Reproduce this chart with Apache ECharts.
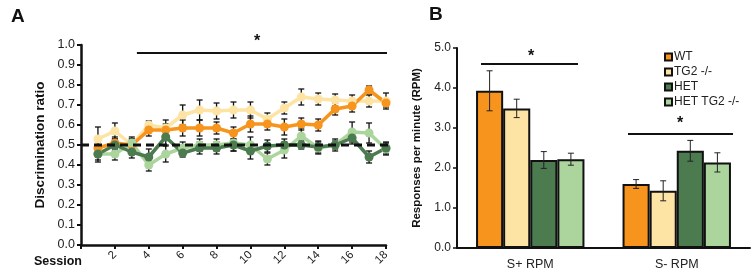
<!DOCTYPE html>
<html>
<head>
<meta charset="utf-8">
<script src="https://cdn.jsdelivr.net/npm/echarts@6/dist/echarts.min.js"></script>
<style>
  html, body { margin: 0; padding: 0; background: #fff; }
  #chart { width: 755px; height: 274px; }
</style>
</head>
<body>
<div id="chart"></div>
<script>
// panel A: discrimination ratio per session
const sessions = [1, 2, 3, 4, 5, 6, 7, 8, 9, 10, 11, 12, 13, 14, 15, 16, 17, 18]
const wtRatio = [0.485, 0.51, 0.50, 0.575, 0.575, 0.585, 0.585, 0.585, 0.56, 0.605, 0.605, 0.59, 0.605, 0.60, 0.68, 0.695, 0.775, 0.71]
const tg2Ratio = [0.53, 0.57, 0.50, 0.60, 0.585, 0.65, 0.675, 0.67, 0.675, 0.675, 0.63, 0.685, 0.74, 0.73, 0.725, 0.72, 0.72, 0.72]
const hetRatio = [0.455, 0.50, 0.465, 0.44, 0.54, 0.46, 0.485, 0.485, 0.50, 0.47, 0.495, 0.50, 0.50, 0.49, 0.50, 0.535, 0.44, 0.485]
const hetTg2Ratio = [0.455, 0.455, 0.51, 0.40, 0.455, 0.485, 0.50, 0.50, 0.51, 0.50, 0.43, 0.475, 0.545, 0.485, 0.50, 0.565, 0.56, 0.48]
const wtRatioErr = [0.03, 0.03, 0.03, 0.03, 0.03, 0.04, 0.04, 0.03, 0.03, 0.04, 0.03, 0.04, 0.03, 0.03, 0.03, 0.03, 0.02, 0.02]
const tg2RatioErr = [0.06, 0.04, 0.03, 0.02, 0.04, 0.05, 0.05, 0.04, 0.04, 0.04, 0.03, 0.03, 0.04, 0.03, 0.03, 0.03, 0.03, 0.04]
const hetRatioErr = [0.03, 0.03, 0.03, 0.04, 0.04, 0.02, 0.03, 0.03, 0.03, 0.04, 0.03, 0.03, 0.02, 0.03, 0.02, 0.03, 0.03, 0.03]
const hetTg2RatioErr = [0.04, 0.03, 0.03, 0.03, 0.04, 0.03, 0.03, 0.03, 0.04, 0.04, 0.03, 0.04, 0.04, 0.03, 0.03, 0.05, 0.05, 0.03]
const chanceLevel = 0.5

// panel B: responses per minute
const rpmCategories = ['S+ RPM', 'S- RPM']
const groups = ['WT', 'TG2 -/-', 'HET', 'HET TG2 -/-']
const wtRpm = [3.93, 1.60]
const tg2Rpm = [3.49, 1.43]
const hetRpm = [2.20, 2.43]
const hetTg2Rpm = [2.22, 2.14]
const wtRpmErr = [0.50, 0.11]
const tg2RpmErr = [0.23, 0.25]
const hetRpmErr = [0.21, 0.26]
const hetTg2RpmErr = [0.15, 0.24]

const colors = ['#F7941D', '#FDE3A4', '#4B7B4F', '#ABD59D']
const font = 'Liberation Sans, Arial, sans-serif'

const chartInstance = echarts.init(document.getElementById('chart'))

// error bar on the line panel (drawn behind the lines)
function lineErr(vals, errs) {
  return {
    type: 'custom',
    xAxisIndex: 0,
    yAxisIndex: 0,
    z: 2,
    silent: true,
    data: vals.map((v, i) => [sessions[i], v - errs[i], v + errs[i]]),
    renderItem(params, api) {
      const lo = api.coord([api.value(0), api.value(1)])
      const hi = api.coord([api.value(0), api.value(2)])
      const w = 3
      const style = { stroke: '#111', lineWidth: 1.3 }
      return {
        type: 'group',
        children: [
          { type: 'line', shape: { x1: lo[0], y1: lo[1], x2: hi[0], y2: hi[1] }, style },
          { type: 'line', shape: { x1: lo[0] - w, y1: lo[1], x2: lo[0] + w, y2: lo[1] }, style },
          { type: 'line', shape: { x1: hi[0] - w, y1: hi[1], x2: hi[0] + w, y2: hi[1] }, style },
        ],
      }
    },
  }
}

const gapRatio = 0.26
// error bar on the bar panel, shifted to the bar's slot
function barErr(vals, errs, slot) {
  return {
    type: 'custom',
    xAxisIndex: 1,
    yAxisIndex: 1,
    z: 4,
    silent: true,
    data: vals.map((v, i) => [i, v - errs[i], v + errs[i]]),
    renderItem(params, api) {
      const band = api.size([1, 0])[0]
      const bw = band * (1 - gapRatio) / 4
      const dx = (slot - 1.5) * bw
      const lo = api.coord([api.value(0), api.value(1)])
      const hi = api.coord([api.value(0), api.value(2)])
      const x = lo[0] + dx
      const w = 3
      const style = { stroke: '#222', lineWidth: 1 }
      return {
        type: 'group',
        children: [
          { type: 'line', shape: { x1: x, y1: lo[1], x2: x, y2: hi[1] }, style },
          { type: 'line', shape: { x1: x - w, y1: lo[1], x2: x + w, y2: lo[1] }, style },
          { type: 'line', shape: { x1: x - w, y1: hi[1], x2: x + w, y2: hi[1] }, style },
        ],
      }
    },
  }
}

function ratioLine(name, vals, color) {
  return {
    name: 'A ' + name,
    type: 'line',
    xAxisIndex: 0,
    yAxisIndex: 0,
    data: vals.map((v, i) => [sessions[i], v]),
    symbol: 'circle',
    symbolSize: 9,
    lineStyle: { color, width: 3.5 },
    itemStyle: { color },
    z: 3,
  }
}

function rpmBar(name, vals, color) {
  return {
    name,
    type: 'bar',
    xAxisIndex: 1,
    yAxisIndex: 1,
    data: vals,
    barGap: '0%',
    barCategoryGap: gapRatio * 100 + '%',
    itemStyle: { color, borderColor: '#111', borderWidth: 2 },
  }
}

const option = {
  animation: false,
  textStyle: { fontFamily: font },
  title: [
    { text: 'A', left: 6, top: 2, textStyle: { fontSize: 19, fontWeight: 'bold', color: '#111' } },
    { text: 'B', left: 424, top: 0, textStyle: { fontSize: 19, fontWeight: 'bold', color: '#111' } },
  ],
  legend: {
    data: groups,
    orient: 'vertical',
    left: 659,
    top: 46,
    itemWidth: 7,
    itemHeight: 7,
    itemGap: 3,
    icon: 'rect',
    textStyle: { fontSize: 12, color: '#222', padding: [0, 0, 0, -3] },
  },
  grid: [
    { left: 81, top: 45, width: 305, height: 200 },
    { left: 457, top: 48, width: 293, height: 200 },
  ],
  xAxis: [
    {
      type: 'value',
      gridIndex: 0,
      min: 0,
      max: 18,
      interval: 2,
      splitLine: { show: false },
      axisLine: { lineStyle: { color: '#111', width: 2.5 } },
      axisTick: { length: 4, lineStyle: { color: '#111', width: 2 } },
      axisLabel: {
        rotate: 45,
        fontSize: 11.5,
        color: '#222',
        margin: 8,
        formatter: v => (v === 0 ? '' : v),
      },
    },
    {
      type: 'category',
      gridIndex: 1,
      data: rpmCategories,
      axisLine: { lineStyle: { color: '#111', width: 2 } },
      axisTick: { length: 4, lineStyle: { color: '#111', width: 1.5 } },
      axisLabel: { fontSize: 12.5, color: '#222', margin: 10 },
    },
  ],
  yAxis: [
    {
      type: 'value',
      gridIndex: 0,
      min: 0,
      max: 1,
      interval: 0.1,
      name: 'Discrimination ratio',
      nameLocation: 'middle',
      nameGap: 34,
      nameTextStyle: { fontSize: 13.5, fontWeight: 'bold', color: '#111' },
      splitLine: { show: false },
      axisLine: { show: true, lineStyle: { color: '#111', width: 2.5 } },
      axisTick: { show: true, length: 4, lineStyle: { color: '#111', width: 2 } },
      axisLabel: { fontSize: 12.5, color: '#222', margin: 6, formatter: v => v.toFixed(1) },
    },
    {
      type: 'value',
      gridIndex: 1,
      min: 0,
      max: 5,
      interval: 1,
      name: 'Responses per minute (RPM)',
      nameLocation: 'middle',
      nameGap: 34,
      nameTextStyle: { fontSize: 11.5, fontWeight: 'bold', color: '#111' },
      splitLine: { show: false },
      axisLine: { show: true, lineStyle: { color: '#111', width: 2 } },
      axisTick: { show: true, length: 4, lineStyle: { color: '#111', width: 1.5 } },
      axisLabel: { fontSize: 12, color: '#222', margin: 6, formatter: v => v.toFixed(1) },
    },
  ],
  graphic: [
    { type: 'text', left: 34, top: 255, style: { text: 'Session', font: 'bold 12.5px ' + font, fill: '#111' } },
    { type: 'text', left: 254, top: 34, style: { text: '*', font: 'bold 16px ' + font, fill: '#111' } },
    // significance bars on panel B
    { type: 'line', shape: { x1: 481, y1: 64, x2: 578, y2: 64 }, style: { stroke: '#111', lineWidth: 2 } },
    { type: 'text', left: 528, top: 49, style: { text: '*', font: 'bold 16px ' + font, fill: '#111' } },
    { type: 'line', shape: { x1: 628, y1: 134, x2: 733, y2: 134 }, style: { stroke: '#111', lineWidth: 2 } },
    { type: 'text', left: 677, top: 116, style: { text: '*', font: 'bold 16px ' + font, fill: '#111' } },
  ],
  series: [
    ratioLine('TG2 -/-', tg2Ratio, colors[1]),
    ratioLine('WT', wtRatio, colors[0]),
    ratioLine('HET TG2 -/-', hetTg2Ratio, colors[3]),
    ratioLine('HET', hetRatio, colors[2]),
    lineErr(tg2Ratio, tg2RatioErr),
    lineErr(wtRatio, wtRatioErr),
    lineErr(hetTg2Ratio, hetTg2RatioErr),
    lineErr(hetRatio, hetRatioErr),
    {
      name: 'chance',
      type: 'line',
      xAxisIndex: 0,
      yAxisIndex: 0,
      data: [[0, chanceLevel], [18.2, chanceLevel]],
      clip: false,
      symbol: 'none',
      z: 5,
      lineStyle: { color: '#111', width: 3, type: [8, 5] },
    },
    {
      name: 'sig',
      type: 'line',
      xAxisIndex: 0,
      yAxisIndex: 0,
      data: [[3.3, 0.96], [18.2, 0.96]],
      clip: false,
      symbol: 'none',
      lineStyle: { color: '#111', width: 2 },
    },
    rpmBar(groups[0], wtRpm, colors[0]),
    rpmBar(groups[1], tg2Rpm, colors[1]),
    rpmBar(groups[2], hetRpm, colors[2]),
    rpmBar(groups[3], hetTg2Rpm, colors[3]),
    barErr(wtRpm, wtRpmErr, 0),
    barErr(tg2Rpm, tg2RpmErr, 1),
    barErr(hetRpm, hetRpmErr, 2),
    barErr(hetTg2Rpm, hetTg2RpmErr, 3),
  ],
}
chartInstance.setOption(option)
</script>
</body>
</html>
